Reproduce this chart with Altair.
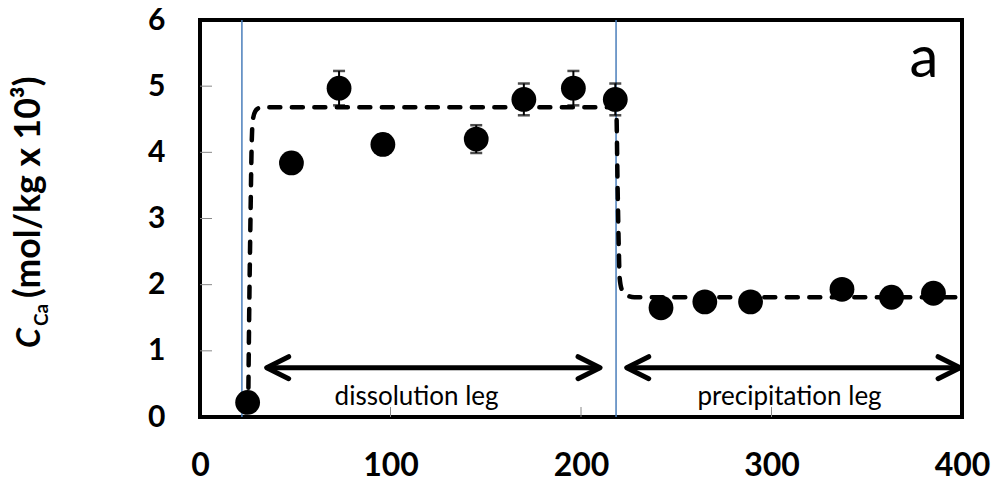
import altair as alt
import pandas as pd

# measured points
time_x = [25, 48, 73, 96, 145, 170, 196, 218, 242, 265, 289, 337, 363, 385]
conc_y = [0.22, 3.84, 4.97, 4.12, 4.20, 4.80, 4.97, 4.80, 1.65, 1.74, 1.74, 1.93, 1.81, 1.87]
conc_err = [0.05, 0.15, 0.26, 0.15, 0.21, 0.24, 0.26, 0.24, 0.10, 0.10, 0.10, 0.10, 0.10, 0.10]

# model curve (dashed)
model_x = [25.3, 25.8, 26.5, 27.2, 27.8, 29, 31, 34, 218.5, 219.2, 219.8, 220.3, 221.5, 224, 228, 400]
model_y = [0.10, 1.5, 3.0, 4.2, 4.5, 4.62, 4.67, 4.68, 4.68, 3.5, 2.6, 2.1, 1.92, 1.84, 1.81, 1.81]

# vertical markers (leg boundaries)
marker_x = [22, 218.4]

# legs (arrows)
leg_names = ["dissolution leg", "precipitation leg"]
leg_start = [35, 224]
leg_end = [210, 399]
leg_y = 0.745
leg_label_x = [113.7, 309.5]
leg_label_y = 0.18

x_ticks = [0, 100, 200, 300, 400]
y_ticks = [0, 1, 2, 3, 4, 5, 6]

W, H = 762, 397

pts = pd.DataFrame({"x": time_x, "y": conc_y, "err": conc_err})
pts["lo"] = pts["y"] - pts["err"]
pts["hi"] = pts["y"] + pts["err"]
model = pd.DataFrame({"x": model_x, "y": model_y})
markers = pd.DataFrame({"x": marker_x})
legs = pd.DataFrame({"name": leg_names, "x1": leg_start, "x2": leg_end,
                     "lx": leg_label_x, "y": [leg_y, leg_y], "ly": [leg_label_y, leg_label_y]})

xs = alt.Scale(domain=[0, 400], nice=False, zero=False)
ys = alt.Scale(domain=[0, 6], nice=False, zero=False)

X = alt.X("x:Q", scale=xs, axis=alt.Axis(values=x_ticks, format="d", title=None, labelFont="Lato",
          labelFontWeight="bold", labelFontSize=32, labelColor="black", labelPadding=33,
          labelFlush=False, labelOverlap=False, labelBound=False,
          ticks=False, domain=False, grid=False))
Y = alt.Y("y:Q", scale=ys, axis=alt.Axis(values=y_ticks, format="d", title=None, labelFont="Lato",
          labelFontWeight="bold", labelFontSize=30, labelColor="black", labelPadding=35,
          labelFlush=False, labelOverlap=False, labelBound=False,
          ticks=False, domain=False, grid=False))

base = alt.Chart(pts)

blue = alt.Chart(markers).mark_rule(color="#4a7ebb", strokeWidth=1.5).encode(
    x=alt.X("x:Q", scale=xs))

ytk = alt.Chart(pd.DataFrame({"y": y_ticks[1:-1]})).mark_rule(color="#888888", strokeWidth=1).encode(
    y=alt.Y("y:Q", scale=ys), x=alt.value(0), x2=alt.value(12))
xtk = alt.Chart(pd.DataFrame({"x": x_ticks[1:-1]})).mark_rule(color="#888888", strokeWidth=1).encode(
    x=alt.X("x:Q", scale=xs), y=alt.value(H), y2=alt.value(H - 10))

line = alt.Chart(model).mark_line(color="black", strokeWidth=4.5, strokeDash=[11, 11.5],
                                  strokeCap="round", interpolate="monotone").encode(
    x=alt.X("x:Q", scale=xs), y=alt.Y("y:Q", scale=ys))

err_rule = base.mark_rule(color="black", strokeWidth=2).encode(
    x=alt.X("x:Q", scale=xs), y=alt.Y("lo:Q", scale=ys), y2="hi:Q")
cap_lo = base.mark_tick(color="black", orient="horizontal", size=12, thickness=2.5).encode(
    x=alt.X("x:Q", scale=xs), y=alt.Y("lo:Q", scale=ys))
cap_hi = base.mark_tick(color="black", orient="horizontal", size=12, thickness=2.5).encode(
    x=alt.X("x:Q", scale=xs), y=alt.Y("hi:Q", scale=ys))

dots = base.mark_circle(size=615, color="black", opacity=1).encode(x=X, y=Y)

shaft = alt.Chart(legs).mark_rule(color="black", strokeWidth=5).encode(
    x=alt.X("x1:Q", scale=xs), x2="x2:Q", y=alt.Y("y:Q", scale=ys))
head_l = alt.Chart(legs).mark_point(shape="M 2 -1 L 0 0 L 2 1", size=484, filled=False,
                                    color="black", strokeWidth=5, strokeCap="round",
                                    strokeJoin="round", opacity=1).encode(
    x=alt.X("x1:Q", scale=xs), y=alt.Y("y:Q", scale=ys))
head_r = alt.Chart(legs).mark_point(shape="M -2 -1 L 0 0 L -2 1", size=484, filled=False,
                                    color="black", strokeWidth=5, strokeCap="round",
                                    strokeJoin="round", opacity=1).encode(
    x=alt.X("x2:Q", scale=xs), y=alt.Y("y:Q", scale=ys))
leg_text = alt.Chart(legs).mark_text(font="Lato", fontSize=26, color="black", align="center",
                                     baseline="alphabetic").encode(
    x=alt.X("lx:Q", scale=xs), y=alt.Y("ly:Q", scale=ys), text="name:N")

panel = alt.Chart(pd.DataFrame({"t": ["a"], "x": [380], "y": [5.14]})).mark_text(
    font="Lato", fontSize=58, color="black", align="center", baseline="alphabetic").encode(
    x=alt.X("x:Q", scale=xs), y=alt.Y("y:Q", scale=ys), text="t:N")

one = alt.Data(values=[{}])
t_c = alt.Chart(one).mark_text(font="Lato", fontSize=32, fontWeight="bold", fontStyle="italic",
                               angle=270, align="left", baseline="alphabetic", color="black").encode(
    x=alt.value(-160), y=alt.value(328), text=alt.value("C"))
t_sub = alt.Chart(one).mark_text(font="Lato", fontSize=19, fontWeight="bold",
                                 angle=270, align="left", baseline="alphabetic", color="black").encode(
    x=alt.value(-152), y=alt.value(306), text=alt.value("Ca"))
t_main = alt.Chart(one).mark_text(font="Lato", fontSize=35.5, fontWeight="bold",
                                  angle=270, align="left", baseline="alphabetic", color="black").encode(
    x=alt.value(-160), y=alt.value(278), text=alt.value("(mol/kg x 10³)"))

chart = alt.layer(
    blue, ytk, xtk, line, err_rule, cap_lo, cap_hi, dots,
    shaft, head_l, head_r, leg_text, panel, t_c, t_sub, t_main
).properties(
    width=W, height=H,
    padding={"left": 200, "top": 20, "right": 32, "bottom": 71},
    autosize=alt.AutoSizeParams(type="none"),
    background="white",
).configure_view(stroke="black", strokeWidth=4)

chart.save("out.html", embed_options={"renderer": "svg", "actions": False})
